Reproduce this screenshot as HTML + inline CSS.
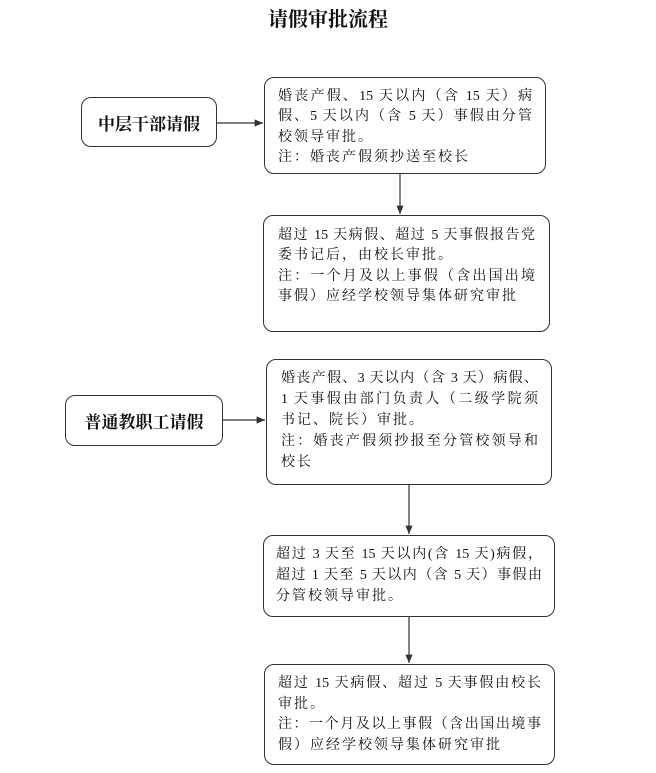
<!DOCTYPE html>
<html><head><meta charset="utf-8"><style>
body{margin:0;width:656px;height:773px;background:#fff;position:relative;overflow:hidden;font-family:"Liberation Serif","Noto Serif CJK SC","Noto Sans CJK SC",serif;color:#111}
.b{position:absolute;border:1.3px solid #333;border-radius:10px;box-sizing:border-box;background:#fff}
.t{position:absolute;font-size:20px;font-weight:bold;left:0;width:656px;text-align:center;top:3px}
.l{position:absolute;font-size:17px;font-weight:bold;text-align:center;display:flex;align-items:center;justify-content:center}
.ln{position:absolute;font-size:14px;height:20px;line-height:20px;text-align:justify;text-align-last:justify;white-space:nowrap}
.nl{text-align-last:left}
svg{position:absolute;left:0;top:0}
</style></head><body>
<div class="t">请假审批流程</div>
<svg width="656" height="773">
<defs><marker id="a" markerWidth="8" markerHeight="8" refX="7" refY="4" orient="auto"><path d="M0,1 L7,4 L0,7 z" fill="#333"/></marker></defs>
<g stroke="#333" stroke-width="1.2" marker-end="url(#a)">
<line x1="217" y1="123" x2="263" y2="123"/>
<line x1="400" y1="174" x2="400" y2="214"/>
<line x1="223" y1="420" x2="265" y2="420"/>
<line x1="409" y1="485" x2="409" y2="534"/>
<line x1="409" y1="617" x2="409" y2="663"/>
</g></svg>
<div class="b l" style="left:81px;top:97px;width:136px;height:50px">中层干部请假</div>
<div class="b l" style="left:65px;top:395px;width:158px;height:51px">普通教职工请假</div>

<div class="b" style="left:264px;top:77px;width:282px;height:97px"></div>
<div class="ln" style="left:278px;top:87px;width:254px">婚丧产假、15 天以内（含 15 天）病</div>
<div class="ln" style="left:278px;top:107px;width:254px">假、5 天以内（含 5 天）事假由分管</div>
<div class="ln nl" style="left:278px;top:128px;width:254px;letter-spacing:2px">校领导审批。</div>
<div class="ln nl" style="left:278px;top:148px;width:254px;letter-spacing:2px">注：婚丧产假须抄送至校长</div>

<div class="b" style="left:263px;top:215px;width:287px;height:117px"></div>
<div class="ln" style="left:278px;top:226px;width:257px">超过 15 天病假、超过 5 天事假报告党</div>
<div class="ln nl" style="left:278px;top:246px;width:257px;letter-spacing:2px">委书记后，由校长审批。</div>
<div class="ln" style="left:278px;top:267px;width:257px">注：一个月及以上事假（含出国出境</div>
<div class="ln nl" style="left:278px;top:287px;width:257px;letter-spacing:2px">事假）应经学校领导集体研究审批</div>

<div class="b" style="left:266px;top:359px;width:286px;height:126px"></div>
<div class="ln" style="left:281px;top:369px;width:257px">婚丧产假、3 天以内（含 3 天）病假、</div>
<div class="ln" style="left:281px;top:390px;width:257px">1 天事假由部门负责人（二级学院须</div>
<div class="ln nl" style="left:281px;top:411px;width:257px;letter-spacing:2px">书记、院长）审批。</div>
<div class="ln" style="left:281px;top:432px;width:257px">注：婚丧产假须抄报至分管校领导和</div>
<div class="ln nl" style="left:281px;top:453px;width:257px;letter-spacing:2px">校长</div>

<div class="b" style="left:263px;top:535px;width:292px;height:82px"></div>
<div class="ln" style="left:276px;top:545px;width:266px">超过 3 天至 15 天以内(含 15 天)病假，</div>
<div class="ln" style="left:276px;top:566px;width:266px">超过 1 天至 5 天以内（含 5 天）事假由</div>
<div class="ln nl" style="left:276px;top:587px;width:266px;letter-spacing:2px">分管校领导审批。</div>

<div class="b" style="left:264px;top:664px;width:291px;height:101px"></div>
<div class="ln" style="left:278px;top:674px;width:263px">超过 15 天病假、超过 5 天事假由校长</div>
<div class="ln nl" style="left:278px;top:695px;width:263px;letter-spacing:2px">审批。</div>
<div class="ln" style="left:278px;top:715px;width:263px">注：一个月及以上事假（含出国出境事</div>
<div class="ln nl" style="left:278px;top:736px;width:263px;letter-spacing:2px">假）应经学校领导集体研究审批</div>
</body></html>
